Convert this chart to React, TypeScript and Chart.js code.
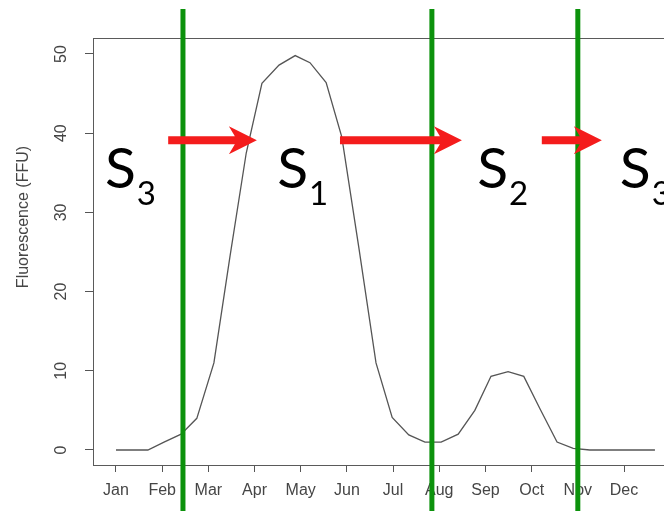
import { useEffect, useRef } from "react";
import { Chart, registerables } from "chart.js";

Chart.register(...registerables);

// Month tick labels (tick value = month index, Jan = 1)
const monthLabels = ["Jan", "Feb", "Mar", "Apr", "May", "Jun", "Jul", "Aug", "Sep", "Oct", "Nov", "Dec"];
const fluorescenceTicks = [0, 10, 20, 30, 40, 50];

// Sampling positions through the year, in month units
const sampleMonths = [
  1.0, 1.35, 1.69, 2.04, 2.41, 2.75, 3.12, 3.47, 3.82, 4.16, 4.53, 4.88, 5.2, 5.55, 5.89, 6.26, 6.63,
  6.98, 7.34, 7.69, 8.04, 8.41, 8.77, 9.12, 9.49, 9.83, 10.18, 10.55, 10.9, 11.26, 11.61, 11.96, 12.33, 12.67,
];
// Fluorescence (FFU) at each sample
const fluorescence = [
  0, 0, 0, 1.0, 2.0, 4.0, 11.0, 24.5, 37.5, 46.3, 48.6, 49.8, 48.9, 46.4, 39.5, 25.5, 11.0,
  4.1, 1.9, 1.0, 1.0, 2.0, 5.0, 9.3, 9.9, 9.3, 5.2, 1.0, 0.2, 0, 0, 0, 0, 0,
];

// Season boundaries (month position)
const stageBoundaries = [2.45, 7.84, 11.0];
// Transitions between stages: [start, end] in months
const stageTransitions = [
  [2.13, 4.05],
  [5.85, 8.49],
  [10.22, 11.52],
];
const transitionLevel = 39.1;
// Stage names: letter, subscript, left edge (month)
const stageNames = ["S", "S", "S", "S"];
const stageSubscripts = ["3", "1", "2", "3"];
const stageStarts = [0.76, 4.49, 8.82, 11.91];
const stageBaseline = 33.1;

const AXIS_FONT = '"Liberation Sans", Arial, sans-serif';
const TEXT_COLOR = "#454545";

const overlayPlugin = {
  id: "seasonOverlay",
  beforeDatasetsDraw(chart: any) {
    const { ctx, chartArea: a } = chart;
    ctx.save();
    ctx.strokeStyle = "#5a5a5a";
    ctx.lineWidth = 1;
    ctx.strokeRect(Math.round(a.left) + 0.5, Math.round(a.top) + 0.5, a.right - a.left + 2, Math.round(a.bottom - a.top));
    ctx.restore();
  },
  afterDraw(chart: any) {
    const { ctx } = chart;
    const xs = chart.scales.x;
    const ys = chart.scales.y;
    ctx.save();

    // y-axis title
    ctx.save();
    ctx.translate(24, 217);
    ctx.rotate(-Math.PI / 2);
    ctx.font = `16px ${AXIS_FONT}`;
    ctx.fillStyle = TEXT_COLOR;
    ctx.textAlign = "center";
    ctx.textBaseline = "middle";
    ctx.fillText("Fluorescence (FFU)", 0, 0);
    ctx.restore();

    // season boundaries
    ctx.strokeStyle = "#0c920c";
    ctx.lineWidth = 5;
    stageBoundaries.forEach((m) => {
      const x = xs.getPixelForValue(m);
      ctx.beginPath();
      ctx.moveTo(x, 9);
      ctx.lineTo(x, chart.height);
      ctx.stroke();
    });

    // transition arrows
    ctx.fillStyle = "#f41c1c";
    const y = ys.getPixelForValue(transitionLevel);
    stageTransitions.forEach(([from, to]) => {
      const x0 = xs.getPixelForValue(from);
      const x1 = xs.getPixelForValue(to);
      ctx.beginPath();
      ctx.moveTo(x0, y - 4);
      ctx.lineTo(x1 - 22, y - 4);
      ctx.lineTo(x1 - 28, y - 14);
      ctx.lineTo(x1, y);
      ctx.lineTo(x1 - 28, y + 14);
      ctx.lineTo(x1 - 22, y + 4);
      ctx.lineTo(x0, y + 4);
      ctx.closePath();
      ctx.fill();
    });

    // stage names with subscripts
    ctx.fillStyle = "#000";
    ctx.textAlign = "left";
    ctx.textBaseline = "alphabetic";
    const by = ys.getPixelForValue(stageBaseline);
    stageNames.forEach((name, i) => {
      const x = xs.getPixelForValue(stageStarts[i]);
      ctx.font = "57px Lato, sans-serif";
      ctx.fillText(name, x, by);
      const w = ctx.measureText(name).width;
      ctx.font = "33px Lato, sans-serif";
      ctx.fillText(stageSubscripts[i], x + w + 1, by + 17);
    });

    ctx.restore();
  },
};

export default function App() {
  const canvasRef = useRef<HTMLCanvasElement | null>(null);

  useEffect(() => {
    const canvas = canvasRef.current;
    if (!canvas) return;
    const chart = new Chart(canvas, {
      type: "line",
      data: {
        datasets: [
          {
            data: sampleMonths.map((m, i) => ({ x: m, y: fluorescence[i] })),
            borderColor: "#555555",
            borderWidth: 1.3,
            pointRadius: 0,
            tension: 0,
            fill: false,
          },
        ],
      },
      options: {
        responsive: false,
        animation: false,
        devicePixelRatio: 1,
        layout: { padding: { top: 38, left: 0, right: 0, bottom: 0 } },
        plugins: { legend: { display: false }, tooltip: { enabled: false } },
        scales: {
          x: {
            type: "linear",
            min: 0.502,
            max: 12.866,
            afterBuildTicks: (s: any) => {
              s.ticks = monthLabels.map((_, i) => ({ value: i + 1 }));
            },
            afterFit: (s: any) => {
              s.height = 46;
            },
            ticks: {
              autoSkip: false,
              maxRotation: 0,
              padding: 9,
              color: TEXT_COLOR,
              font: { family: AXIS_FONT, size: 16 },
              callback: (v: any) => monthLabels[Math.round(Number(v)) - 1] ?? "",
            },
            grid: { drawOnChartArea: false, drawTicks: true, tickLength: 7, tickColor: "#555", tickWidth: 1 },
            border: { display: false },
          },
          y: {
            type: "linear",
            min: -1.894,
            max: 52.02,
            afterBuildTicks: (s: any) => {
              s.ticks = fluorescenceTicks.map((v) => ({ value: v }));
            },
            afterFit: (s: any) => {
              s.width = 93;
            },
            ticks: {
              minRotation: 90,
              maxRotation: 90,
              crossAlign: "center",
              padding: 15,
              color: TEXT_COLOR,
              font: { family: AXIS_FONT, size: 16 },
            },
            grid: { drawOnChartArea: false, drawTicks: true, tickLength: 8, tickColor: "#555", tickWidth: 1 },
            border: { display: false },
          },
        },
      },
      plugins: [overlayPlugin],
    });
    return () => chart.destroy();
  }, []);

  return (
    <div style={{ position: "fixed", left: 0, top: 0, width: 664, height: 511, background: "#fff" }}>
      <canvas ref={canvasRef} width={664} height={511} style={{ display: "block" }} />
    </div>
  );
}
